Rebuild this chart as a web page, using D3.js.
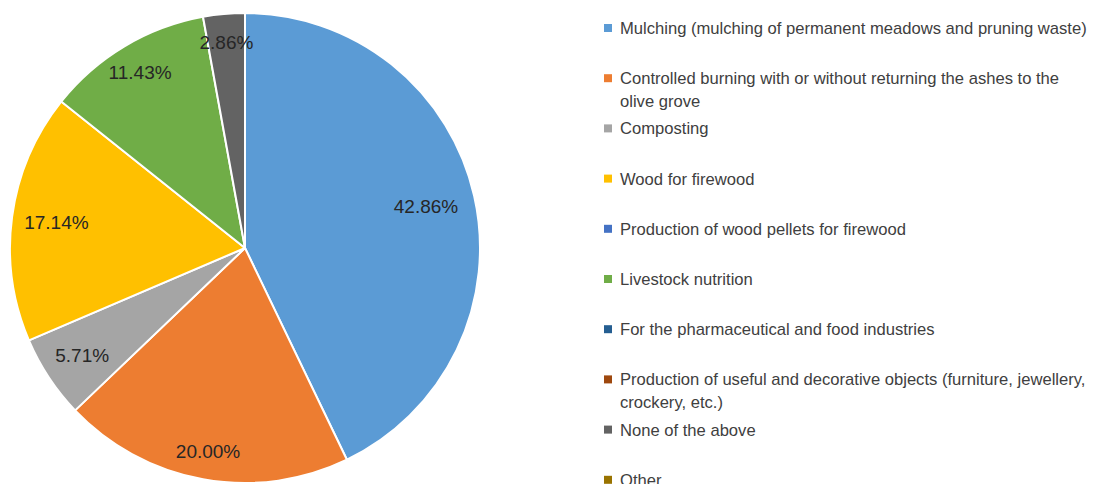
<!DOCTYPE html>
<html>
<head>
<meta charset="utf-8">
<script src="https://cdn.jsdelivr.net/npm/d3@7"></script>
<style>
  html, body { margin: 0; padding: 0; background: #fff; }
  svg { display: block; }
  text { font-family: "Liberation Sans", Arial, sans-serif; }
</style>
</head>
<body>
<svg id="chart" width="1104" height="484"></svg>
<script>
// Uses of olive pruning residues (share of respondents)
const categories = [
  "Mulching (mulching of permanent meadows and pruning waste)",
  "Controlled burning with or without returning the ashes to the olive grove",
  "Composting",
  "Wood for firewood",
  "Production of wood pellets for firewood",
  "Livestock nutrition",
  "For the pharmaceutical and food industries",
  "Production of useful and decorative objects (furniture, jewellery, crockery, etc.)",
  "None of the above",
  "Other"
];
const values = [42.86, 20.00, 5.71, 17.14, 0, 11.43, 0, 0, 2.86, 0];

// Legend text as wrapped lines
const legendLines = [
  ["Mulching (mulching of permanent meadows and pruning waste)"],
  ["Controlled burning with or without returning the ashes to the", "olive grove"],
  ["Composting"],
  ["Wood for firewood"],
  ["Production of wood pellets for firewood"],
  ["Livestock nutrition"],
  ["For the pharmaceutical and food industries"],
  ["Production of useful and decorative objects (furniture, jewellery,", "crockery, etc.)"],
  ["None of the above"],
  ["Other"]
];

const palette = ["#5B9BD5", "#ED7D31", "#A5A5A5", "#FFC000", "#4472C4",
                 "#70AD47", "#255E91", "#9E480E", "#636363", "#997300"];

// Layout
const cx = 245, cy = 248, radius = 235;
const labelRadiusFactor = [0.79, 0.88, 0.83, 0.81, 0.84, 0.87, 0.84, 0.84, 0.88, 0.84];
const legendX = 604, legendY0 = 28, legendStep = 50.2, lineHeight = 23;

const svg = d3.select("#chart");
const color = d3.scaleOrdinal().domain(categories).range(palette);

const pie = d3.pie().sort(null).value(d => d.value);
const data = categories.map((c, i) => ({ name: c, value: values[i], index: i }));
const arcs = pie(data);

const arc = d3.arc().innerRadius(0).outerRadius(radius);

const g = svg.append("g").attr("transform", `translate(${cx},${cy})`);

g.selectAll("path.slice")
  .data(arcs.filter(a => a.data.value > 0))
  .join("path")
  .attr("class", "slice")
  .attr("d", arc)
  .attr("fill", d => color(d.data.name))
  .attr("stroke", "#fff")
  .attr("stroke-width", 2)
  .attr("stroke-linejoin", "round");

g.selectAll("text.pct")
  .data(arcs.filter(a => a.data.value > 0))
  .join("text")
  .attr("class", "pct")
  .attr("transform", d => {
    const r = radius * labelRadiusFactor[d.data.index];
    const c = d3.arc().innerRadius(r).outerRadius(r).centroid(d);
    return `translate(${c[0]},${c[1]})`;
  })
  .attr("text-anchor", "middle")
  .attr("dominant-baseline", "central")
  .attr("font-size", 19)
  .attr("fill", "#262626")
  .text(d => d3.format(".2f")(d.data.value) + "%");

// Legend
const legend = svg.append("g");
const items = legend.selectAll("g.item")
  .data(data)
  .join("g")
  .attr("class", "item")
  .attr("transform", (d, i) => `translate(${legendX},${legendY0 + i * legendStep})`);

items.append("rect")
  .attr("x", 0).attr("y", -4)
  .attr("width", 8).attr("height", 8)
  .attr("fill", d => color(d.name));

items.append("text")
  .attr("x", 16)
  .attr("font-size", 16.6)
  .attr("fill", "#404040")
  .selectAll("tspan")
  .data((d, i) => legendLines[i])
  .join("tspan")
  .attr("x", 16)
  .attr("y", (d, j) => j * lineHeight)
  .attr("dy", "0.36em")
  .text(d => d);
</script>
</body>
</html>
